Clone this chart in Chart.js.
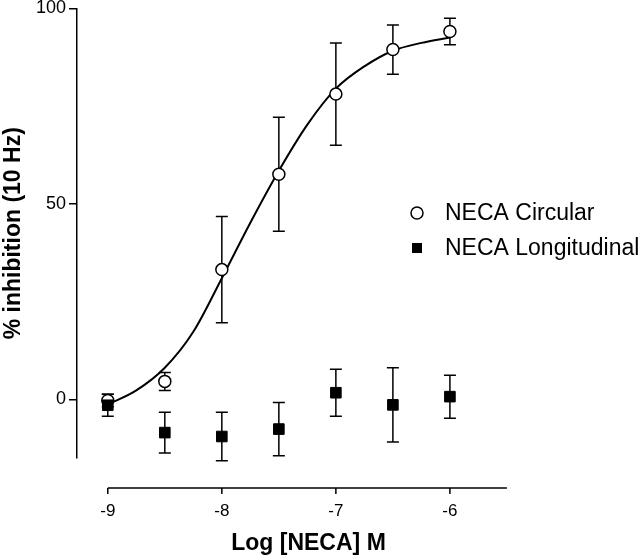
<!DOCTYPE html>
<html>
<head>
<meta charset="utf-8">
<script src="https://cdn.jsdelivr.net/npm/chart.js@4"></script>
<style>
  html, body { margin: 0; padding: 0; background: #fff; }
  #wrap { width: 640px; height: 558px; }
</style>
</head>
<body>
<div id="wrap"><canvas id="chart" width="640" height="558"></canvas></div>
<script>
// values
const doses = [-9, -8.5, -8, -7.5, -7, -6.5, -6];
const circularMean = [-0.3, 4.6, 33.2, 57.6, 78.1, 89.5, 94.1];
const circularErr = [1.6, 2.3, 13.6, 14.6, 13.1, 6.3, 3.4];
const longMean = [-1.5, -8.5, -9.5, -7.6, 1.7, -1.4, 0.7];
const longErr = [2.8, 5.2, 6.2, 6.8, 6.0, 9.5, 5.5];

// fitted curve
const fitX = [-9, -8.75, -8.5, -8.25, -8, -7.75, -7.5, -7.25, -7, -6.75, -6.5, -6.25, -6];
const fitY = [-1.3, 2.3, 8.1, 17.3, 31.0, 45.2, 58.5, 70.3, 79.5, 85.2, 89.2, 91.2, 92.6];

const xTicks = [-9, -8, -7, -6];
const yTicks = [0, 50, 100];
const xAxisEnd = -5.5;

const FONT = "'Liberation Sans', Arial, Helvetica, sans-serif";

function pts(xs, ys) {
  return xs.map((x, i) => ({ x: x, y: ys[i] }));
}

// error bars + detached x axis + legend
const extras = {
  id: 'extras',
  beforeDatasetsDraw(chart) {
    const ctx = chart.ctx;
    const xs = chart.scales.x, ys = chart.scales.y;
    ctx.save();
    ctx.strokeStyle = '#000';
    ctx.lineWidth = 1.5;
    const bars = [[circularMean, circularErr], [longMean, longErr]];
    bars.forEach(([m, e]) => {
      doses.forEach((d, i) => {
        const px = xs.getPixelForValue(d);
        const top = ys.getPixelForValue(m[i] + e[i]);
        const bot = ys.getPixelForValue(m[i] - e[i]);
        ctx.beginPath();
        ctx.moveTo(px, top); ctx.lineTo(px, bot);
        ctx.moveTo(px - 6, top); ctx.lineTo(px + 6, top);
        ctx.moveTo(px - 6, bot); ctx.lineTo(px + 6, bot);
        ctx.stroke();
      });
    });
    ctx.restore();
  },
  afterDraw(chart) {
    const ctx = chart.ctx;
    const xs = chart.scales.x;
    const ay = chart.chartArea.bottom + 30;
    ctx.save();
    ctx.strokeStyle = '#000';
    ctx.lineWidth = 1.5;
    ctx.beginPath();
    ctx.moveTo(xs.getPixelForValue(xTicks[0]), ay);
    ctx.lineTo(xs.getPixelForValue(xAxisEnd), ay);
    xTicks.forEach(t => {
      const px = xs.getPixelForValue(t);
      ctx.moveTo(px, ay);
      ctx.lineTo(px, ay + 6);
    });
    ctx.stroke();

    // legend
    ctx.font = '23px ' + FONT;
    ctx.textBaseline = 'middle';
    ctx.beginPath();
    ctx.arc(417, 213, 6, 0, Math.PI * 2);
    ctx.fillStyle = '#fff';
    ctx.fill();
    ctx.stroke();
    ctx.fillStyle = '#000';
    ctx.fillRect(412, 243, 10, 10);
    ctx.fillText(chart.data.datasets[1].label, 445, 214);
    ctx.fillText(chart.data.datasets[0].label, 445, 249);
    ctx.restore();
  }
};

new Chart(document.getElementById('chart'), {
  type: 'scatter',
  data: {
    datasets: [
      {
        label: 'NECA Longitudinal',
        data: pts(doses, longMean),
        pointStyle: 'rect',
        pointRadius: 7.5,
        pointBackgroundColor: '#000',
        pointBorderColor: '#000',
        pointBorderWidth: 1
      },
      {
        label: 'NECA Circular',
        data: pts(doses, circularMean),
        pointStyle: 'circle',
        pointRadius: 6,
        pointBackgroundColor: '#fff',
        pointBorderColor: '#000',
        pointBorderWidth: 1.5
      },
      {
        label: 'fit',
        type: 'line',
        data: pts(fitX, fitY),
        borderColor: '#000',
        borderWidth: 2,
        pointRadius: 0,
        tension: 0.4,
        cubicInterpolationMode: 'monotone',
        fill: false
      }
    ]
  },
  options: {
    responsive: false,
    animation: false,
    layout: { padding: { top: 5, right: 100, left: 0, bottom: 0 } },
    plugins: {
      legend: { display: false },
      tooltip: { enabled: false }
    },
    scales: {
      x: {
        type: 'linear',
        min: -9.27,
        max: -5.21,
        afterFit(scale) {
          scale.height = 100;
          scale.paddingLeft = 0;
          scale.paddingRight = 0;
        },
        afterBuildTicks(scale) { scale.ticks = xTicks.map(v => ({ value: v })); },
        grid: { display: false, drawTicks: false },
        border: { display: false },
        ticks: {
          padding: 43,
          color: '#000',
          font: { family: FONT, size: 17 },
          maxRotation: 0
        },
        title: {
          display: true,
          text: 'Log [NECA] M',
          color: '#000',
          font: { family: FONT, size: 23, weight: 'bold' },
          padding: { top: 0, bottom: 1 }
        }
      },
      y: {
        type: 'linear',
        min: -15,
        max: 100,
        afterFit(scale) {
          scale.width = 77;
          scale.paddingTop = 0;
          scale.paddingBottom = 0;
        },
        afterBuildTicks(scale) { scale.ticks = yTicks.map(v => ({ value: v })); },
        grid: { drawOnChartArea: false, drawTicks: true, tickLength: 8, color: '#000', lineWidth: 1.5 },
        border: { display: true, color: '#000', width: 1.5 },
        ticks: {
          padding: 3,
          color: '#000',
          font: { family: FONT, size: 18 }
        },
        title: {
          display: true,
          text: '% inhibition (10 Hz)',
          color: '#000',
          font: { family: FONT, size: 23, weight: 'bold' },
          padding: { top: 0, bottom: 0 }
        }
      }
    }
  },
  plugins: [extras]
});
</script>
</body>
</html>
